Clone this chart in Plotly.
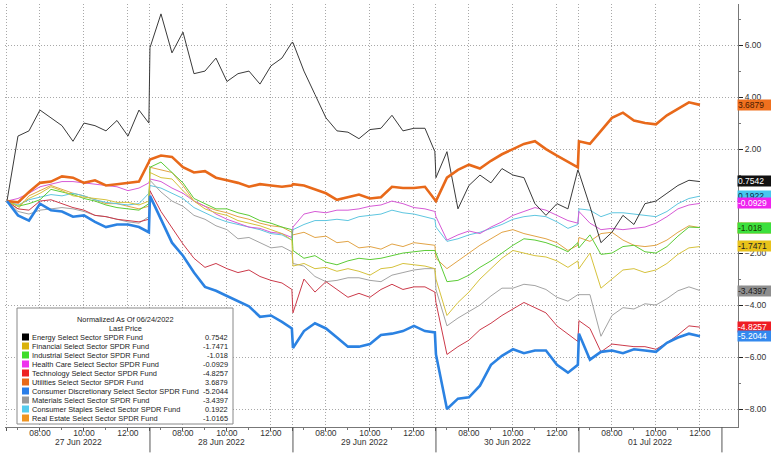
import plotly.graph_objects as go

# ---- data (normalized % change since 06/24/2022 close, every 30 min) ----
days = ['27 Jun 2022', '28 Jun 2022', '29 Jun 2022', '30 Jun 2022', '01 Jul 2022']

names = ['Energy Select Sector SPDR Fund', 'Financial Select Sector SPDR Fund',
         'Industrial Select Sector SPDR Fund', 'Health Care Select Sector SPDR Fund',
         'Technology Select Sector SPDR Fund', 'Utilities Select Sector SPDR Fund',
         'Consumer Discretionary Select Sector SPDR Fund', 'Materials Select Sector SPDR Fund',
         'Consumer Staples Select Sector SPDR Fund', 'Real Estate Select Sector SPDR Fund']
last_price = ['0.7542', '-1.7471', '-1.018', '-0.0929', '-4.8257', '3.6879',
              '-5.2044', '-3.4397', '0.1922', '-1.0165']

energy = [0.0, 2.5, 2.7, 3.5, 3.2, 2.9, 2.3, 3.0, 2.9, 2.7, 3.1, 2.5, 3.5, 3.0,
          5.9, 7.2, 5.7, 6.5, 4.9, 5.0, 5.5, 4.6, 4.9, 5.0, 4.5, 5.2, 5.5, 6.1,
          6.1, 5.0, 4.1, 3.2, 2.7, 2.65, 2.4, 2.75, 2.8, 3.3, 2.7, 2.8, 2.8, 1.9,
          0.9, 1.9, -0.3, 0.6, 1.0, 0.7, 1.25, 1.0, 0.9, -0.1, -0.55, -0.1, -0.3, 1.2,
          1.1, -0.2, -1.6, -1.2, -0.55, -0.9, -0.1, 0.0, 0.3, 0.6, 0.8, 0.75]
financial = [0.0, -0.2, 0.1, 0.3, 0.55, 0.4, 0.2, 0.15, 0.1, 0.05, -0.05, -0.05, -0.15, 0.0,
             1.1, 0.9, 0.85, 0.4, 0.0, -0.3, -0.45, -0.55, -0.75, -0.85, -0.95, -1.1, -1.25, -1.5,
             -2.5, -2.4, -2.6, -2.55, -2.7, -2.6, -2.7, -2.85, -2.6, -2.55, -2.4, -2.45, -2.5, -2.6,
             -3.0, -4.4, -3.9, -3.5, -3.0, -2.6, -2.2, -1.9, -2.0, -2.1, -2.15, -2.3, -2.55, -2.3,
             -2.6, -2.0, -3.35, -3.0, -2.65, -2.6, -2.75, -2.65, -2.4, -2.05, -1.8, -1.75]
industrial = [0.0, -0.2, -0.1, 0.05, 0.45, 0.35, 0.25, 0.1, 0.0, -0.15, -0.25, -0.3, -0.35, -0.1,
              1.3, 1.5, 1.1, 0.7, 0.1, -0.1, -0.3, -0.3, -0.45, -0.55, -0.75, -0.85, -1.0, -1.1,
              -1.9, -2.2, -2.1, -2.35, -2.45, -2.3, -2.2, -2.25, -2.2, -2.1, -2.0, -1.95, -1.9, -1.9,
              -2.0, -3.1, -3.05, -2.85, -2.55, -2.3, -2.0, -1.7, -1.45, -1.5, -1.6, -1.75, -1.95, -1.6,
              -1.8, -1.3, -2.05, -2.0, -1.75, -1.7, -1.95, -2.0, -1.75, -1.35, -1.0, -1.02]
health = [0.0, 0.1, 0.3, 0.55, 0.65, 0.75, 0.75, 0.7, 0.65, 0.6, 0.55, 0.4, 0.5, 0.7,
          0.85, 0.75, 0.5, 0.3, 0.0, -0.2, -0.5, -0.7, -0.85, -1.0, -1.05, -1.2, -1.25, -1.4,
          -1.0, -0.5, -0.4, -0.45, -0.35, -0.35, -0.3, -0.2, -0.15, 0.0, -0.1, -0.25, -0.3, -0.4,
          -0.6, -1.5, -1.3, -1.15, -1.25, -1.0, -0.8, -0.55, -0.4, -0.25, -0.35, -0.55, -0.75, -0.85,
          -0.4, -0.85, -1.1, -1.05, -1.1, -1.05, -1.0, -0.85, -0.6, -0.3, -0.15, -0.09]
technology = [0.0, -0.3, -0.35, 0.0, 0.05, -0.1, -0.25, -0.35, -0.55, -0.6, -0.7, -0.75, -0.8, -0.7,
              0.4, -0.4, -1.05, -1.65, -2.2, -2.55, -2.4, -2.6, -2.75, -2.65, -2.9, -3.05, -3.15, -3.4,
              -4.3, -3.0, -3.5, -3.1, -3.4, -3.7, -3.55, -3.7, -3.4, -3.2, -3.4, -3.3, -3.3, -3.5,
              -3.9, -5.9, -5.6, -5.35, -4.95, -4.7, -4.4, -4.15, -3.9, -4.1, -4.3, -4.8, -5.1, -5.4,
              -4.6, -4.9, -5.8, -5.5, -5.55, -5.6, -5.6, -5.7, -5.45, -5.15, -4.8, -4.85]
utilities = [0.0, -0.05, 0.35, 0.7, 0.75, 0.95, 0.9, 0.7, 0.8, 0.6, 0.65, 0.7, 0.75, 1.5,
             1.6, 1.75, 1.7, 1.3, 1.1, 1.15, 0.9, 0.8, 0.7, 0.55, 0.65, 0.6, 0.55, 0.6,
             0.65, 0.6, 0.45, 0.3, 0.05, 0.15, 0.25, 0.1, 0.15, 0.55, 0.5, 0.5, 0.55, 0.05,
             0.0, 0.9, 1.2, 1.4, 1.25, 1.55, 1.8, 2.0, 2.2, 2.3, 2.0, 1.75, 1.5, 1.3,
             2.3, 2.2, 2.7, 3.2, 3.4, 3.1, 3.0, 2.95, 3.3, 3.55, 3.8, 3.7]
cons_disc = [0.0, -0.55, -0.75, -0.1, -0.35, -0.4, -0.6, -0.55, -0.8, -1.0, -0.9, -0.9, -1.0, -1.2,
             0.2, -0.7, -1.6, -2.1, -2.75, -3.3, -3.45, -3.65, -3.85, -4.05, -4.45, -4.4, -4.65, -4.9,
             -5.65, -5.0, -4.7, -4.9, -5.25, -5.6, -5.6, -5.5, -5.15, -5.1, -5.0, -4.8, -5.0, -5.05,
             -5.9, -8.0, -7.6, -7.55, -7.1, -6.3, -5.95, -5.7, -5.85, -5.75, -5.75, -6.3, -6.6, -6.3,
             -5.1, -6.1, -5.8, -5.75, -5.85, -5.7, -5.75, -5.8, -5.45, -5.25, -5.1, -5.2]
materials = [0.0, -0.4, -0.5, -0.35, -0.3, -0.25, -0.3, -0.4, -0.55, -0.6, -0.7, -0.8, -0.85, -0.6,
             0.8, 0.35, 0.0, -0.2, -0.55, -0.7, -0.95, -1.1, -1.45, -1.4, -1.6, -1.8, -1.75, -1.95,
             -2.4, -2.5, -2.9, -3.1, -3.05, -2.95, -2.95, -3.05, -3.1, -2.85, -2.75, -2.65, -2.6, -2.6,
             -3.4, -4.8, -4.5, -4.25, -4.0, -3.65, -3.35, -3.35, -3.2, -3.25, -3.4, -3.7, -3.85, -3.6,
             -3.6, -3.6, -5.2, -4.4, -4.1, -4.15, -3.95, -4.0, -3.75, -3.45, -3.3, -3.44]
staples = [0.0, -0.15, 0.05, 0.15, 0.25, 0.2, 0.3, 0.2, 0.05, -0.05, -0.1, -0.15, -0.1, 0.3,
           0.6, 0.5, 0.3, 0.1, -0.25, -0.45, -0.65, -0.8, -0.9, -1.0, -1.1, -1.25, -1.3, -1.5,
           -1.1, -0.9, -0.75, -0.75, -0.7, -0.75, -0.6, -0.55, -0.5, -0.35, -0.45, -0.5, -0.6, -0.7,
           -1.0, -1.55, -1.45, -1.3, -1.2, -1.05, -0.9, -0.7, -0.6, -0.55, -0.6, -0.8, -1.05, -0.9,
           -0.3, -0.35, -0.6, -0.45, -0.45, -0.5, -0.55, -0.6, -0.4, -0.1, 0.1, 0.19]
real_estate = [0.0, -0.3, 0.2, 0.4, 0.6, 0.45, 0.3, 0.2, 0.05, -0.1, -0.1, -0.2, -0.3, -0.2,
               1.3, 1.2, 1.1, 0.6, 0.0, -0.2, -0.35, -0.45, -0.6, -0.7, -0.85, -0.95, -1.0, -1.2,
               -1.3, -1.2, -1.4, -1.35, -1.6, -1.55, -1.8, -1.75, -1.85, -1.65, -1.75, -1.6, -1.65, -1.7,
               -2.2, -2.6, -2.3, -2.0, -1.7, -1.45, -1.2, -1.1, -1.25, -1.35, -1.45, -1.6, -1.9, -1.7,
               -1.4, -1.55, -1.25, -1.2, -1.5, -1.7, -1.75, -1.7, -1.5, -1.2, -0.95, -1.02]

series = [energy, financial, industrial, health, technology, utilities,
          cons_disc, materials, staples, real_estate]

# ---- styles ----
line_colors = ['#3a3a3a', '#d6c23c', '#5ccc36', '#d65ad6', '#cc3a4a', '#e8691a',
               '#2b82e2', '#a3a3a3', '#5ec6e0', '#e2a446']
box_colors = ['#000000', '#d9b20c', '#3fdc2a', '#ee33ee', '#ee2222', '#e86a1a',
              '#2a7ee8', '#9a9a9a', '#55ccee', '#ee9422']
tag_colors = ['#111111', '#e8c21a', '#3ce03c', '#ee22ee', '#ee1c24', '#f0701e',
              '#3389ee', '#8e8e8e', '#46c6ee', '#ee9422']
tag_text = ['white', '#222', '#1a3a00', 'white', 'white', '#4a1a00',
            'white', '#1a1a1a', '#0a2a4a', '#222']
widths = [1, 1, 1, 1, 1, 2.6, 2.6, 1, 1, 1]

FONT = 'Liberation Sans, Arial, sans-serif'

# x axis: trading hours laid end to end, each session 06:30-13:00 = 6.5 h
x = []
for d in range(5):
    if d < 4:
        hs = [i * 0.5 for i in range(13)] + [6.45]
    else:
        hs = [i * 0.5 for i in range(12)]
    x += [6.5 * d + h for h in hs]

tickvals, ticktext = [], []
for d in range(5):
    tickvals += [6.5 * d, 6.5 * d + 1.5, 6.5 * d + 3.5, 6.5 * d + 5.5]
    ticktext += ['', '08:00', '10:00', '12:00']
minor_vals = [6.5 * d + h for d in range(6) for h in [0.5, 1.5, 2.5, 3.5, 4.5, 5.5] if 6.5 * d + h < 33]

fig = go.Figure()
draw_order = [9, 8, 7, 4, 3, 2, 1, 0, 5, 6]
for i in draw_order:
    fig.add_trace(go.Scatter(x=x, y=series[i], mode='lines', name=names[i],
                             line=dict(color=line_colors[i], width=widths[i]),
                             showlegend=False, hoverinfo='skip'))

W, H = 771, 454
ml, mr, mt, mb = 5, 33, 4, 27
pw, ph = W - ml - mr, H - mt - mb


def px_x(p):
    return (p - ml) / pw


def px_y(p):
    return (H - mb - p) / ph


shapes = []
annotations = []

# day separators below the axis
for d in range(1, 6):
    shapes.append(dict(type='line', xref='x', yref='paper', x0=6.5 * d, x1=6.5 * d,
                       y0=0, y1=-0.06, line=dict(color='#555', width=1)))
for d in range(5):
    annotations.append(dict(text=days[d], x=6.5 * d + 3.25, xref='x', xanchor='center',
                            y=px_y(442), yref='paper', yanchor='middle',
                            showarrow=False, font=dict(family=FONT, size=8.5, color='#333')))

# legend box
LEG = 7.4
shapes.append(dict(type='rect', xref='paper', yref='paper', x0=px_x(17), x1=px_x(233),
                   y0=px_y(424), y1=px_y(308), fillcolor='white',
                   line=dict(color='#888', width=1), layer='above'))
for txt, ty in [('Normalized As Of 06/24/2022', 319), ('Last Price', 328)]:
    annotations.append(dict(text=txt, x=px_x(125), y=px_y(ty), xref='paper', yref='paper',
                            xanchor='center', yanchor='middle', showarrow=False, borderpad=0,
                            font=dict(family=FONT, size=LEG, color='#222')))
for i in range(10):
    ry = 337 + 9 * i
    shapes.append(dict(type='rect', xref='paper', yref='paper', x0=px_x(22), x1=px_x(29),
                       y0=px_y(ry + 3.5), y1=px_y(ry - 3.5), fillcolor=box_colors[i],
                       line=dict(width=0), layer='above'))
    annotations.append(dict(text=names[i], x=px_x(30.5), y=px_y(ry), xref='paper', yref='paper',
                            xanchor='left', yanchor='middle', showarrow=False, borderpad=0,
                            font=dict(family=FONT, size=LEG, color='#222')))
    annotations.append(dict(text=last_price[i], x=px_x(229), y=px_y(ry), xref='paper', yref='paper',
                            xanchor='right', yanchor='middle', showarrow=False, borderpad=0,
                            font=dict(family=FONT, size=LEG, color='#222')))

# last value tags on the right axis (fixed width so a later tag hides the one below it)
tag_order = [9, 2, 1, 0, 8, 3, 7, 4, 6, 5]
for i in tag_order:
    v = float(last_price[i])
    shapes.append(dict(type='path', xref='paper', yref='y',
                       path=f'M 1.0015,{v} L 1.0055,{v + 0.2} L 1.0055,{v - 0.2} Z',
                       fillcolor=tag_colors[i], line=dict(width=0), layer='above'))
    annotations.append(dict(text=last_price[i], x=1, xref='paper', xanchor='left', xshift=-1,
                            y=v, yref='y', yanchor='middle', showarrow=False,
                            width=34, align='left',
                            bgcolor=tag_colors[i], borderpad=0,
                            font=dict(family=FONT, size=8.5, color=tag_text[i])))

fig.update_layout(
    width=W, height=H,
    margin=dict(l=ml, r=mr, t=mt, b=mb),
    paper_bgcolor='white', plot_bgcolor='white',
    shapes=shapes, annotations=annotations,
    xaxis=dict(range=[-0.09, 33.23], tickmode='array', tickvals=tickvals, ticktext=ticktext,
               showgrid=True, gridcolor='#a8a8a8', griddash='1px,2px', gridwidth=1,
               showline=True, linecolor='#777', linewidth=1, zeroline=False,
               ticks='outside', ticklen=3, tickcolor='#555', ticklabelstandoff=-5,
               tickfont=dict(family=FONT, size=8.5, color='#333'),
               minor=dict(tickmode='array', tickvals=minor_vals, ticks='outside', ticklen=2,
                          tickcolor='#777', showgrid=False)),
    yaxis=dict(side='right', range=[-8.69, 7.58], dtick=2, tick0=0, tickformat='.2f',
               showgrid=True, gridcolor='#a8a8a8', griddash='1px,2px', gridwidth=1,
               showline=True, linecolor='#777', linewidth=1, zeroline=False,
               ticks='outside', ticklen=4, tickcolor='#222',
               tickfont=dict(family=FONT, size=8.5, color='#333'),
               minor=dict(dtick=1, ticks='outside', ticklen=2, tickcolor='#777', showgrid=False)),
)

# the page body has a default 8px margin; drop it so the figure fills the window
fig.write_html("out.html", config={'displayModeBar': False},
               post_script="document.body.style.margin='0px';")
